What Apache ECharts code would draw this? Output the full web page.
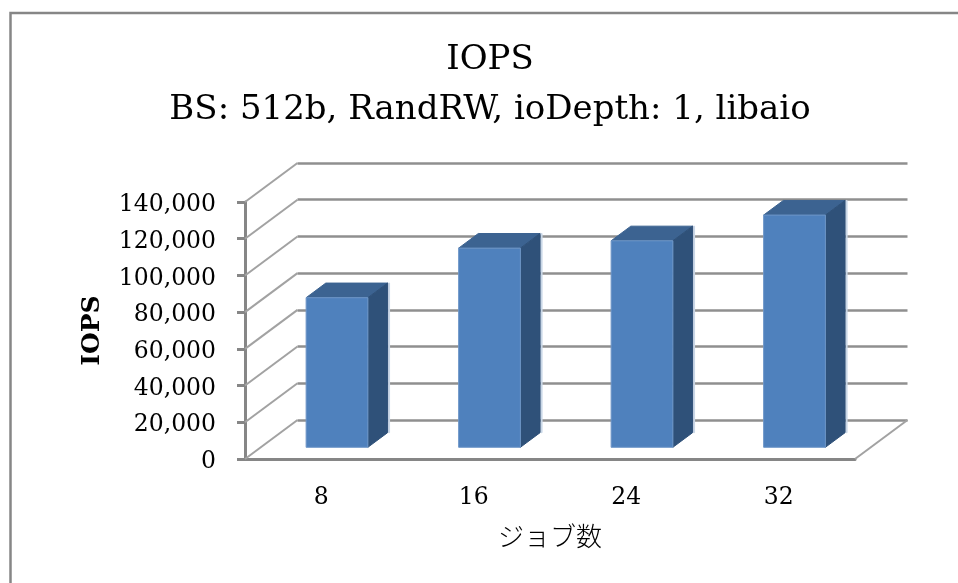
<!DOCTYPE html>
<html>
<head>
<meta charset="utf-8">
<style>
  html, body { margin: 0; padding: 0; background: #fff; }
  #main { width: 958px; height: 583px; }
</style>
<script src="https://cdn.jsdelivr.net/npm/echarts@6/dist/echarts.min.js"></script>
</head>
<body>
<div id="main"></div>
<script>
const jobCounts = ['8', '16', '24', '32']
const iopsValues = [81500, 108500, 112500, 126500]
const wallTicks = [0, 20000, 40000, 60000, 80000, 100000, 120000, 140000]

// 3D look: how far the back wall sits from the front axes, in px
const DEPTH_X = 52.5
const DEPTH_Y = 39
const BAR_OFFSET = 0.3 // bar front, as part of the depth
const BAR_DEPTH = 0.375
const SERIF = '"DejaVu Serif", serif'
const AXIS_GREY = '#868686'

const chart = echarts.init(document.getElementById('main'))

function renderWall(params, api) {
  const v = api.value(1)
  const y = api.coord([0, v])[1]
  const sys = params.coordSys
  const line = (x1, y1) => ({
    type: 'line',
    shape: { x1: x1, y1: y1, x2: x1 + DEPTH_X, y2: y1 - DEPTH_Y },
    style: { stroke: '#a2a2a2', lineWidth: 2 }
  })
  const children = [line(sys.x, y)]
  if (v === 0) children.push(line(sys.x + sys.width, y))
  return { type: 'group', children: children }
}

function renderBar(params, api) {
  const i = api.value(0)
  const base = api.coord([i, 0])
  const top = api.coord([i, api.value(1)])
  const w = api.size([1, 0])[0] * 0.405
  const dx = DEPTH_X * BAR_DEPTH
  const dy = DEPTH_Y * BAR_DEPTH
  const x0 = base[0] + DEPTH_X * BAR_OFFSET - w / 2
  const x1 = x0 + w
  const yb = base[1] - DEPTH_Y * BAR_OFFSET
  const yt = top[1] - DEPTH_Y * BAR_OFFSET
  const poly = (points, fill, stroke) => ({
    type: 'polygon',
    shape: { points: points },
    style: { fill: fill, stroke: stroke || fill, lineWidth: 1 }
  })
  return {
    type: 'group',
    children: [
      // pale halo on the right of the side face
      poly([[x1 + dx + 1, yt - dy], [x1 + dx + 2, yt - dy], [x1 + dx + 2, yb - dy], [x1 + dx + 1, yb - dy]], '#c9d6e6'),
      poly([[x0, yt], [x1, yt], [x1 + dx, yt - dy], [x0 + dx, yt - dy]], '#3c6391'),
      poly([[x1, yt], [x1 + dx, yt - dy], [x1 + dx, yb - dy], [x1, yb]], '#2f5179'),
      poly([[x0, yt], [x1, yt], [x1, yb], [x0, yb]], '#4f81bd', '#6f97c8')
    ]
  }
}

chart.setOption({
  animation: false,
  backgroundColor: '#fff',
  title: {
    text: 'IOPS\nBS: 512b, RandRW, ioDepth: 1, libaio',
    left: 485,
    top: 30,
    textAlign: 'center',
    textStyle: {
      fontFamily: SERIF,
      fontWeight: 'normal',
      fontSize: 34,
      lineHeight: 50,
      color: '#000'
    }
  },
  graphic: [
    {
      type: 'polyline',
      shape: { points: [[10.5, 583], [10.5, 13], [958, 13]] },
      style: { fill: 'none', stroke: AXIS_GREY, lineWidth: 2.5 }
    }
  ],
  grid: [
    { left: 245, top: 202, width: 610, height: 257 },
    { left: 245 + DEPTH_X, top: 202 - DEPTH_Y, width: 610, height: 257 }
  ],
  xAxis: [
    {
      type: 'category',
      gridIndex: 0,
      data: jobCounts,
      name: 'ジョブ数',
      nameLocation: 'middle',
      nameGap: 64,
      nameTextStyle: { fontFamily: '"Noto Sans CJK JP", sans-serif', fontWeight: 300, fontSize: 26, color: '#000' },
      axisLine: { lineStyle: { color: AXIS_GREY, width: 3 } },
      axisTick: { show: false },
      axisLabel: { fontFamily: SERIF, fontSize: 23.5, color: '#000', margin: 27 }
    },
    {
      type: 'category',
      gridIndex: 1,
      data: jobCounts,
      axisLine: { show: false },
      axisTick: { show: false },
      axisLabel: { show: false }
    }
  ],
  yAxis: [
    {
      type: 'value',
      gridIndex: 0,
      min: 0,
      max: 140000,
      interval: 20000,
      name: 'IOPS',
      nameLocation: 'middle',
      nameGap: 140,
      nameTextStyle: { fontFamily: SERIF, fontWeight: 'bold', fontSize: 25, color: '#000' },
      axisLine: { show: true, lineStyle: { color: AXIS_GREY, width: 3 } },
      axisTick: { show: true, length: 8, lineStyle: { color: AXIS_GREY, width: 3 } },
      axisLabel: {
        margin: 29,
        formatter: (v) => '{tick|' + v.toLocaleString('en-US') + '}',
        rich: {
          // nudges the numbers slightly below their ticks
          tick: { fontFamily: SERIF, fontSize: 23.5, color: '#000', padding: [6, 0, 0, 0] }
        }
      },
      splitLine: { show: false }
    },
    {
      type: 'value',
      gridIndex: 1,
      min: 0,
      max: 140000,
      interval: 20000,
      axisLine: { show: false },
      axisTick: { show: false },
      axisLabel: { show: false },
      splitLine: { show: true, lineStyle: { color: '#8f8f8f', width: 2.5 } }
    }
  ],
  series: [
    {
      type: 'custom',
      name: 'wall',
      xAxisIndex: 0,
      yAxisIndex: 0,
      clip: false,
      silent: true,
      z: 1,
      renderItem: renderWall,
      data: wallTicks.map((v) => [0, v])
    },
    {
      type: 'custom',
      name: 'IOPS',
      xAxisIndex: 0,
      yAxisIndex: 0,
      clip: false,
      z: 3,
      renderItem: renderBar,
      data: iopsValues.map((v, i) => [i, v])
    }
  ]
})
</script>
</body>
</html>
